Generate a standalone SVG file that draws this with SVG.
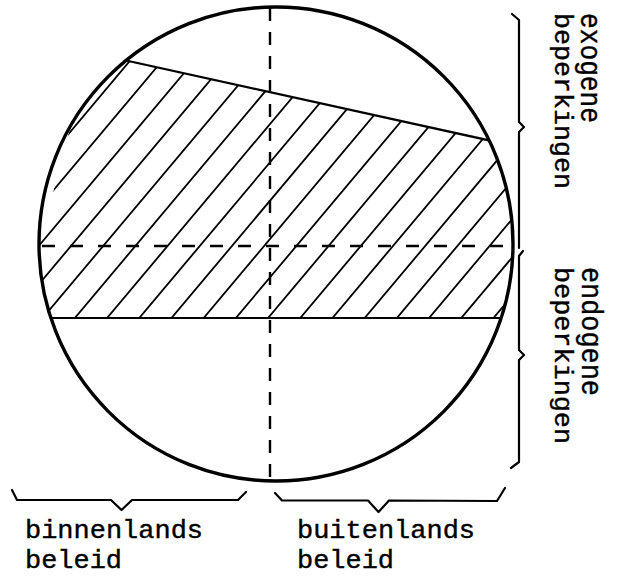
<svg xmlns="http://www.w3.org/2000/svg" width="621" height="578" viewBox="0 0 621 578">
  <style>
    .ink { fill: none; stroke: #000; stroke-linecap: round; stroke-linejoin: round; }
    .hatch { stroke-width: 1.8; }
    .edge { stroke-width: 2.2; }
    .brace { stroke-width: 2.2; }
    .dash-v { stroke-width: 2.4; stroke-dasharray: 13 11; stroke-linecap: butt; }
    .dash-h { stroke-width: 2.4; stroke-dasharray: 13 15; stroke-linecap: butt; }
    .lbl { font-family: "Liberation Mono", "Courier New", monospace; fill: #000; stroke: #000; stroke-width: 0.4; }
  </style>
  <defs>
    <clipPath id="circ">
      <circle cx="276" cy="244" r="237"/>
    </clipPath>
    <clipPath id="band">
      <path d="M90,52.6 L530,149.4 L530,318 L20,318 Z"/>
    </clipPath>
  </defs>

  <g id="hatched-region">
    <g clip-path="url(#circ)">
      <g clip-path="url(#band)">
        <path class="ink hatch" d="M-96.2,330 L147.4,40 M-64,330 L179.6,40 M-31.8,330 L211.8,40 M0.4,330 L244,40 M32.6,330 L276.2,40 M64.8,330 L308.4,40 M97,330 L340.6,40 M129.2,330 L372.8,40 M161.4,330 L405,40 M193.6,330 L437.2,40 M225.8,330 L469.4,40 M258,330 L501.6,40 M290.2,330 L533.8,40 M322.4,330 L566,40 M354.6,330 L598.2,40 M386.8,330 L630.4,40 M419,330 L662.6,40 M451.2,330 L694.8,40 M483.4,330 L727,40"/>
      </g>
      <path class="ink edge" d="M100,54.8 L530,149.4"/>
      <path class="ink edge" d="M30,318 L530,318"/>
    </g>
  </g>

  <g id="connectors">
    <line class="ink dash-v" x1="270" y1="8" x2="270" y2="480"/>
    <line class="ink dash-h" x1="42" y1="246" x2="513" y2="246"/>
  </g>

  <g id="circle-node">
    <circle class="ink" cx="276" cy="244" r="237" stroke-width="3.4"/>
  </g>

  <g id="brace-exogene">
    <path class="ink brace" d="M512,14 L519,20 L519,122 L524,127 L519,132 L519,248"/>
  </g>
  <g id="brace-endogene">
    <path class="ink brace" d="M523,251 L519,256 L519,350 L524,355 L519,360 L519,462 L511,468"/>
  </g>
  <g id="brace-binnenlands">
    <path class="ink brace" d="M12,490 L17,500 L111,500 L121.5,510 L132,500 L238,500 L246,492"/>
  </g>
  <g id="brace-buitenlands">
    <path class="ink brace" d="M275,493 L282,500.5 L368,500.5 L378.5,512 L389,500.5 L497,501 L505,488"/>
  </g>

  <g id="label-binnenlands">
    <text class="lbl" font-size="25" x="25" y="538" textLength="178" lengthAdjust="spacingAndGlyphs">binnenlands</text>
    <text class="lbl" font-size="25" x="25" y="568" textLength="97" lengthAdjust="spacingAndGlyphs">beleid</text>
  </g>
  <g id="label-buitenlands">
    <text class="lbl" font-size="25" x="297" y="538" textLength="178" lengthAdjust="spacingAndGlyphs">buitenlands</text>
    <text class="lbl" font-size="25" x="297" y="568" textLength="97" lengthAdjust="spacingAndGlyphs">beleid</text>
  </g>
  <g id="label-exogene">
    <text class="lbl" font-size="30" transform="translate(581,13) rotate(90)" textLength="110" lengthAdjust="spacingAndGlyphs">exogene</text>
    <text class="lbl" font-size="25" transform="translate(555,13) rotate(90)" textLength="176" lengthAdjust="spacingAndGlyphs">beperkingen</text>
  </g>
  <g id="label-endogene">
    <text class="lbl" font-size="30" transform="translate(582,267) rotate(90)" textLength="129" lengthAdjust="spacingAndGlyphs">endogene</text>
    <text class="lbl" font-size="25" transform="translate(555,267) rotate(90)" textLength="177" lengthAdjust="spacingAndGlyphs">beperkingen</text>
  </g>
</svg>
